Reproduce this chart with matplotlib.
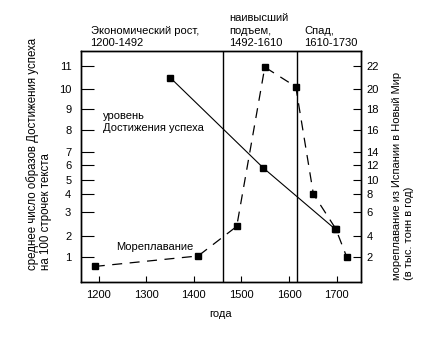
import numpy as np
import matplotlib
matplotlib.use('Agg')
import matplotlib.pyplot as plt

plt.rcParams['font.family'] = ['Liberation Sans', 'DejaVu Sans']
plt.rcParams['font.size'] = 8

# achievement imagery (left axis, per 100 lines of text)
ach_years = [1350, 1546, 1696]
ach_vals = [10.5, 5.8, 2.3]

# shipping Spain -> New World (right axis, thousand tons per year)
ship_years = [1192, 1409, 1490, 1549, 1614, 1651, 1698, 1721]
ship_vals = [1.1, 2.1, 4.8, 21.9, 20.2, 8.0, 4.6, 2.0]

left_ticks = [1, 2, 3, 4, 5, 6, 7, 8, 9, 10, 11]
right_ticks = [2, 4, 6, 8, 10, 12, 14, 16, 18, 20, 22]
x_ticks = [1200, 1300, 1400, 1500, 1600, 1700]
period_bounds = [1461, 1616]
period_labels = ['Экономический рост,\n1200-1492',
                 'наивысший\nподъем,\n1492-1610',
                 'Спад,\n1610-1730']
period_x = [1183, 1475, 1632]

# the hand-drawn left scale is not evenly spaced: value -> drawn height
scale_vals = [-1, 1, 2, 3, 4, 5, 6, 7, 8, 9, 10, 11, 13]
scale_h = [-17, 25, 46, 70, 88, 102, 117, 130, 152, 173, 193, 216, 262]


def fwd_left(v):
    return np.interp(v, scale_vals, scale_h)


def inv_left(h):
    return np.interp(h, scale_h, scale_vals)


def fwd_right(v):
    return fwd_left(np.asarray(v) / 2.0)


def inv_right(h):
    return inv_left(h) * 2.0


fig = plt.figure(figsize=(4.43, 3.39), dpi=100)
ax = fig.add_axes([81 / 443, 1 - 282 / 339, 280 / 443, 231 / 339])
ax.set_yscale('function', functions=(fwd_left, inv_left))
ax.set_ylim(inv_left(0), inv_left(231))
ax.set_xlim(1163, 1751)

ax2 = ax.twinx()
ax2.set_yscale('function', functions=(fwd_right, inv_right))
ax2.set_ylim(inv_right(0), inv_right(231))

ax.plot(ach_years, ach_vals, color='black', lw=0.8, marker='s', ms=4.5)
ax2.plot(ship_years, ship_vals, color='black', lw=0.9, dashes=(8, 6),
         marker='s', ms=4.5)

for b in period_bounds:
    ax.axvline(b, color='black', lw=1)

for x, lab in zip(period_x, period_labels):
    ax.text(x, 1.012, lab, transform=ax.get_xaxis_transform(),
            ha='left', va='bottom', linespacing=1.3)

ax.text(1209, 8.38, 'уровень\nДостижения успеха', ha='left', va='center',
        linespacing=1.3)
ax.text(1237, 1.48, 'Мореплавание', ha='left', va='center')

ax.set_xticks(x_ticks)
ax.set_yticks(left_ticks)
ax2.set_yticks(right_ticks)
ax.minorticks_off()
ax2.minorticks_off()
ax.tick_params(axis='x', direction='in', length=4.5, width=0.8, pad=6)
ax.tick_params(axis='y', direction='in', length=9.5, width=0.8, pad=7)
ax2.tick_params(axis='y', direction='in', length=6, width=0.8, pad=4)

ax.set_xlabel('года', labelpad=6)
ax.set_ylabel('среднее число образов Достижения успеха\nна 100 строчек текста',
              multialignment='left', linespacing=1.2, fontsize=8.3)
ax.yaxis.set_label_coords(-0.15, 0.052)
ax.yaxis.label.set_va('center')
ax.yaxis.label.set_ha('left')
ax2.set_ylabel('мореплавание из Испании в Новый Мир\n(в тыс. тонн в год)',
               multialignment='left', rotation=90, linespacing=1.35)
ax2.yaxis.set_label_coords(1.15, 0.01)
ax2.yaxis.label.set_va('center')
ax2.yaxis.label.set_ha('left')

for a in (ax, ax2):
    for s in a.spines.values():
        s.set_linewidth(1)

fig.savefig('out.png', dpi=100)
